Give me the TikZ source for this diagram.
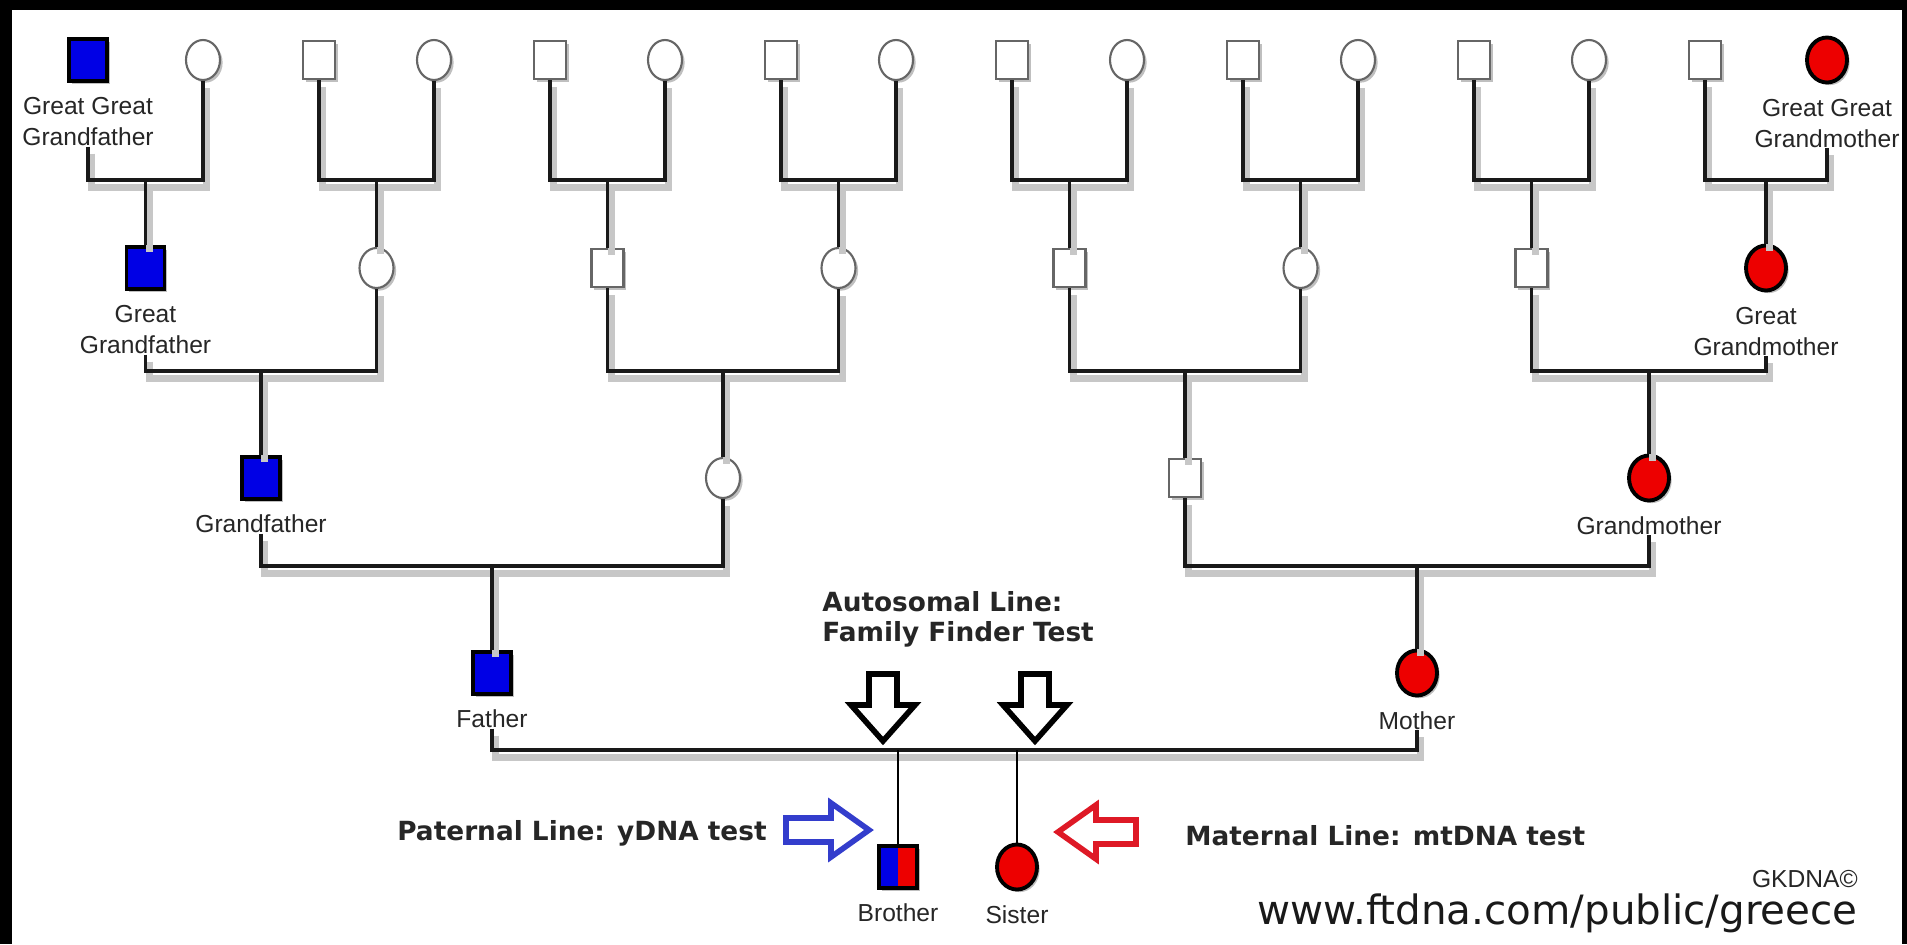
\documentclass[tikz,border=0pt]{standalone}
\usepackage{fontspec}
\setmainfont{Liberation Sans}
\newfontfamily\verdana{DejaVu Sans}
\usepackage{tikz}
\usetikzlibrary{positioning}
\usetikzlibrary{shapes.geometric}
\usetikzlibrary{shadows}
\definecolor{pedblue}{rgb}{0.0, 0.0, 0.9}
\definecolor{pedred}{rgb}{0.93, 0.0, 0.0}
\definecolor{arrowblue}{rgb}{0.2, 0.24, 0.8}
\definecolor{arrowred}{rgb}{0.87, 0.1, 0.15}

\begin{document}
\begin{tikzpicture}[x=0.02cm, y=-0.02cm,
    male/.style={rectangle, draw=black!60, fill=white, line width=1.2pt, minimum width=0.64cm, minimum height=0.76cm, inner sep=0pt, drop shadow={shadow xshift=1.5pt, shadow yshift=-1.5pt, opacity=0.5}},
    female/.style={ellipse, draw=black!60, fill=white, line width=1.2pt, minimum width=0.68cm, minimum height=0.8cm, inner sep=0pt, drop shadow={shadow xshift=1.5pt, shadow yshift=-1.5pt, opacity=0.5}},
    ydna/.style={male, draw=black, fill=pedblue, line width=2pt, minimum width=0.76cm, minimum height=0.84cm},
    mtdna/.style={female, draw=black, fill=pedred, line width=2.2pt, minimum width=0.8cm, minimum height=0.9cm},
    lbl/.style={font=\fontsize{14}{18}\selectfont, text=black!85, align=center, inner sep=0pt},
    famline/.style={line width=2.2pt, black!90, preaction={draw=black!22, line width=4pt, transform canvas={shift={(2pt,-4pt)}}}},
    kid/.style={line width=1.5pt, black},
    testnote/.style={font=\verdana\bfseries\fontsize{15}{17}\selectfont, text=black!85, inner sep=0pt},
    blockarrow/.style={line width=3.2pt, fill=white, line join=miter}
]
    \useasboundingbox (0,0) rectangle (1907,944);
    \fill[black] (0,0) rectangle (1907,944);
    \fill[white] (12,10) rectangle (1902,944);

    % great great grandparents
    \node[ydna] (gg1) at (88,60) {};
    \node[female] (gg2) at (203,60) {};
    \node[male] (gg3) at (319,60) {};
    \node[female] (gg4) at (434,60) {};
    \node[male] (gg5) at (550,60) {};
    \node[female] (gg6) at (665,60) {};
    \node[male] (gg7) at (781,60) {};
    \node[female] (gg8) at (896,60) {};
    \node[male] (gg9) at (1012,60) {};
    \node[female] (gg10) at (1127,60) {};
    \node[male] (gg11) at (1243,60) {};
    \node[female] (gg12) at (1358,60) {};
    \node[male] (gg13) at (1474,60) {};
    \node[female] (gg14) at (1589,60) {};
    \node[male] (gg15) at (1705,60) {};
    \node[mtdna] (gg16) at (1827,60) {};

    \node[lbl, below=8pt of gg1] (gg1-l) {Great Great\\Grandfather};
    \node[lbl, below=8pt of gg16] (gg16-l) {Great Great\\Grandmother};

    % great grandparents
    \node[ydna] (g1) at (145.5,268) {};
    \node[female] (g2) at (376.5,268) {};
    \node[male] (g3) at (607.5,268) {};
    \node[female] (g4) at (838.5,268) {};
    \node[male] (g5) at (1069.5,268) {};
    \node[female] (g6) at (1300.5,268) {};
    \node[male] (g7) at (1531.5,268) {};
    \node[mtdna] (g8) at (1766,268) {};

    \node[lbl, below=8pt of g1] (g1-l) {Great\\Grandfather};
    \node[lbl, below=8pt of g8] (g8-l) {Great\\Grandmother};

    \coordinate (j1) at (145.5,180);
    \coordinate (j2) at (376.5,180);
    \coordinate (j3) at (607.5,180);
    \coordinate (j4) at (838.5,180);
    \coordinate (j5) at (1069.5,180);
    \coordinate (j6) at (1300.5,180);
    \coordinate (j7) at (1531.5,180);
    \coordinate (j8) at (1766,180);

    \draw[famline] (gg1-l) |- (j1) -| (gg2);
    \draw[famline] (gg3) |- (j2) -| (gg4);
    \draw[famline] (gg5) |- (j3) -| (gg6);
    \draw[famline] (gg7) |- (j4) -| (gg8);
    \draw[famline] (gg9) |- (j5) -| (gg10);
    \draw[famline] (gg11) |- (j6) -| (gg12);
    \draw[famline] (gg13) |- (j7) -| (gg14);
    \draw[famline] (gg15) |- (j8) -| (gg16-l);
    \draw[famline] (j1) -- (g1);
    \draw[famline] (j2) -- (g2);
    \draw[famline] (j3) -- (g3);
    \draw[famline] (j4) -- (g4);
    \draw[famline] (j5) -- (g5);
    \draw[famline] (j6) -- (g6);
    \draw[famline] (j7) -- (g7);
    \draw[famline] (j8) -- (g8);

    % grandparents
    \node[ydna] (gp1) at (261,478) {};
    \node[female] (gp2) at (723,478) {};
    \node[male] (gp3) at (1185,478) {};
    \node[mtdna] (gp4) at (1649,478) {};

    \node[lbl, below=8pt of gp1] (gp1-l) {Grandfather};
    \node[lbl, below=8pt of gp4] (gp4-l) {Grandmother};

    \coordinate (k1) at (261,371);
    \coordinate (k2) at (723,371);
    \coordinate (k3) at (1185,371);
    \coordinate (k4) at (1649,371);

    \draw[famline] (g1-l) |- (k1) -| (g2);
    \draw[famline] (g3) |- (k2) -| (g4);
    \draw[famline] (g5) |- (k3) -| (g6);
    \draw[famline] (g7) |- (k4) -| (g8-l);
    \draw[famline] (k1) -- (gp1);
    \draw[famline] (k2) -- (gp2);
    \draw[famline] (k3) -- (gp3);
    \draw[famline] (k4) -- (gp4);

    % parents
    \node[ydna] (father) at (492,673) {};
    \node[mtdna] (mother) at (1417,673) {};
    \node[lbl, below=8pt of father] (father-l) {Father};
    \node[lbl, below=8pt of mother] (mother-l) {Mother};

    \coordinate (q1) at (492,566);
    \coordinate (q2) at (1417,566);

    \draw[famline] (gp1-l) |- (q1) -| (gp2);
    \draw[famline] (gp3) |- (q2) -| (gp4-l);
    \draw[famline] (q1) -- (father);
    \draw[famline] (q2) -- (mother);

    % children
    \node[ydna, path picture={\fill[pedred] (path picture bounding box.south) rectangle (path picture bounding box.north east);}] (brother) at (898,867) {};
    \node[mtdna] (sister) at (1017,867) {};
    \node[lbl, below=8pt of brother] (brother-l) {Brother};
    \node[lbl, below=8pt of sister] (sister-l) {Sister};

    \coordinate (sib) at (954,750);
    \coordinate (cb) at (898,750);
    \coordinate (cs) at (1017,750);

    \draw[famline] (father-l) |- (sib) -| (mother-l);
    \draw[kid] (cb) -- (brother);
    \draw[kid] (cs) -- (sister);

    % tests
    \draw[blockarrow] (869,674) -- (897,674) -- (897,705) -- (915,705) -- (883,741) -- (851,705) -- (869,705) -- cycle;
    \draw[blockarrow] (1021,674) -- (1049,674) -- (1049,705) -- (1067,705) -- (1035,741) -- (1003,705) -- (1021,705) -- cycle;
    \draw[blockarrow, draw=arrowblue] (786,818) -- (831,818) -- (831,803) -- (869,830) -- (831,857) -- (831,842) -- (786,842) -- cycle;
    \draw[blockarrow, draw=arrowred] (1136,820) -- (1096,820) -- (1096,805) -- (1058,832) -- (1096,859) -- (1096,844) -- (1136,844) -- cycle;

    \node[testnote, align=left, anchor=west] (autosomal) at (822,619) {Autosomal Line:\\Family Finder Test};
    \node[testnote, anchor=base east] (paternal) at (767,840) {Paternal Line: yDNA test};
    \node[testnote, anchor=base west] (maternal) at (1185,845) {Maternal Line: mtDNA test};
    \node[font=\fontsize{14}{16}\selectfont, text=black!85, inner sep=0pt, anchor=base east] (gkdna) at (1858,887) {GKDNA©};
    \node[font=\verdana\fontsize{23}{26}\selectfont, text=black!90, inner sep=0pt, anchor=base east] (site) at (1858,924) {www.ftdna.com/public/greece};
\end{tikzpicture}
\end{document}
